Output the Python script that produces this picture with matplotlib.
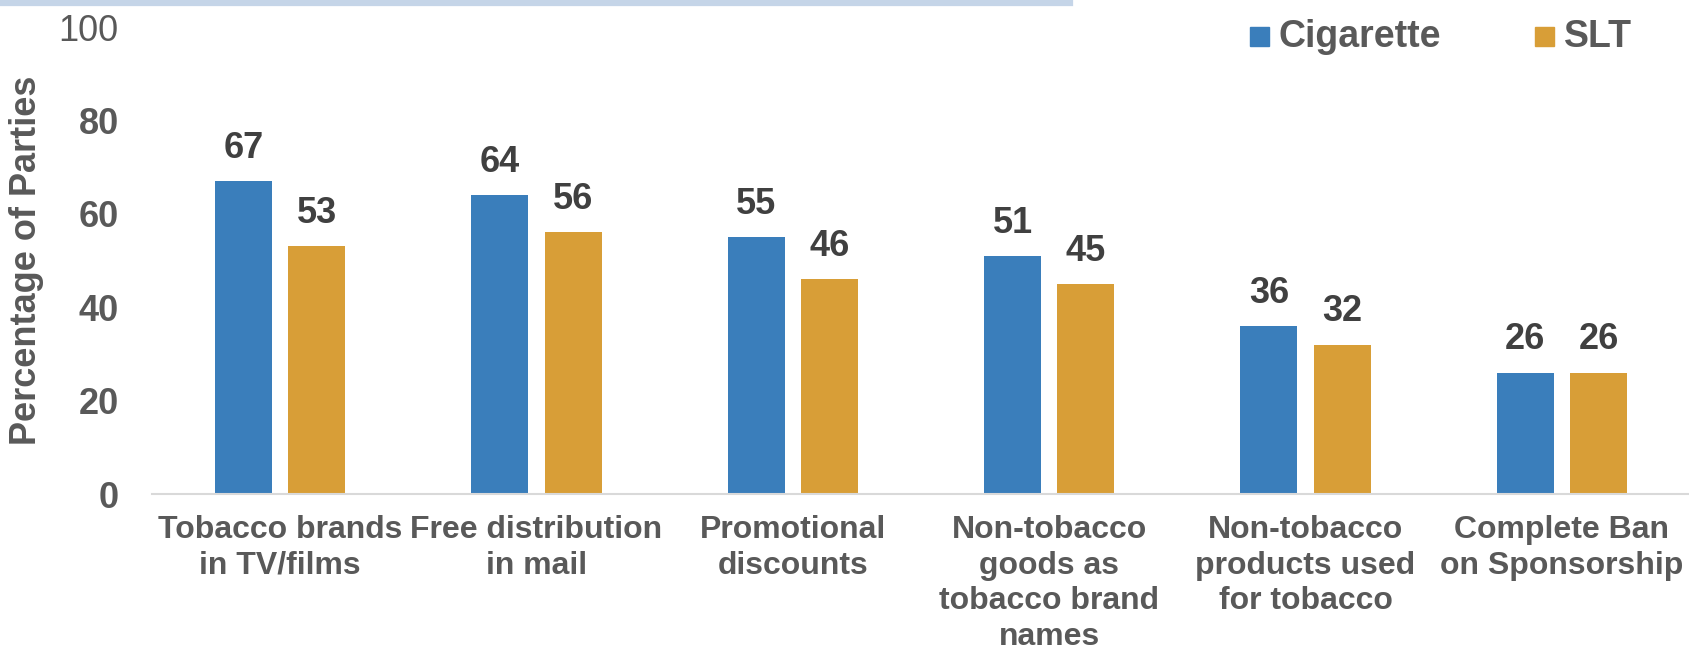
import matplotlib
matplotlib.use("Agg")
import matplotlib.pyplot as plt
import numpy as np
from matplotlib.patches import Rectangle
from matplotlib.lines import Line2D

categories = [
    "Tobacco brands\nin TV/films",
    "Free distribution\nin mail",
    "Promotional\ndiscounts",
    "Non-tobacco\ngoods as\ntobacco brand\nnames",
    "Non-tobacco\nproducts used\nfor tobacco",
    "Complete Ban\non Sponsorship",
]
cigarette = [67, 64, 55, 51, 36, 26]
slt = [53, 56, 46, 45, 32, 26]
series_names = ["Cigarette", "SLT"]
yticks = [0, 20, 40, 60, 80, 100]

BLUE = "#3a7ebb"
GOLD = "#d89e37"
TEXT = "#595959"
LABEL = "#404040"
FONT = "Liberation Sans"

plt.rcParams["font.family"] = [FONT, "DejaVu Sans"]

fig = plt.figure(figsize=(16.9, 6.52), dpi=100)
ax = fig.add_axes([152 / 1690, 158 / 652, 1 - 152 / 1690, (625 - 158) / 652])

x = np.arange(len(categories))
width = 0.223
off = 0.143
b1 = ax.bar(x - off, cigarette, width, color=BLUE)
b2 = ax.bar(x + off, slt, width, color=GOLD)

for bars, vals in ((b1, cigarette), (b2, slt)):
    for rect, v in zip(bars, vals):
        ax.annotate(f"{v}", (rect.get_x() + rect.get_width() / 2, v),
                    xytext=(0, 11), textcoords="offset points",
                    ha="center", va="bottom", fontsize=26, fontweight="bold",
                    color=LABEL)

ax.set_xlim(-0.5, len(categories) - 0.5)
ax.set_ylim(0, 100)
ax.set_yticks(yticks)
ax.set_yticklabels([str(t) for t in yticks])
for lbl in ax.get_yticklabels():
    lbl.set_fontsize(26)
    lbl.set_fontweight("bold")
    lbl.set_color(TEXT)
ax.get_yticklabels()[-1].set_fontweight("normal")
ax.tick_params(axis="y", length=0, pad=24)
ax.set_xticks(x)
ax.set_xticklabels(categories, fontsize=23, fontweight="bold", color=TEXT,
                   linespacing=1.25)
ax.tick_params(axis="x", length=0, pad=15)

for s in ("top", "right", "left"):
    ax.spines[s].set_visible(False)
ax.spines["bottom"].set_color("#d9d9d9")
ax.spines["bottom"].set_linewidth(1.5)

ax.set_ylabel("Percentage of Parties", fontsize=26, fontweight="bold",
              color=TEXT)
ax.yaxis.set_label_coords(-(152 - 44) / 1538, 0.5)

# legend drawn in figure pixels
def fx(px):
    return px / 1690

def fy(py):
    return 1 - py / 652

for px, color, name in ((1250, BLUE, series_names[0]), (1535, GOLD, series_names[1])):
    fig.patches.append(Rectangle((fx(px), fy(46)), 19 / 1690, 19 / 652,
                                 transform=fig.transFigure, color=color))
    fig.text(fx(px + 29), fy(37), name, fontsize=27, fontweight="bold",
             color=TEXT, va="center", ha="left")

# thin band across the top edge
fig.add_artist(Line2D([0, fx(1070)], [fy(2.5), fy(2.5)],
                      transform=fig.transFigure, color="#c5d5e8", linewidth=4.5))

fig.savefig("out.png", dpi=100)
